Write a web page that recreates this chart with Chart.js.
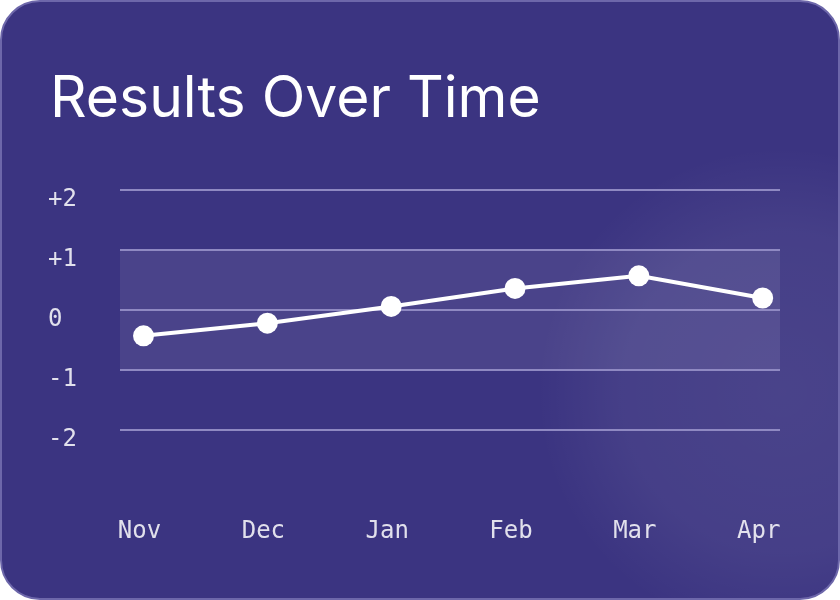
<!DOCTYPE html>
<html>
<head>
<meta charset="utf-8">
<script src="https://cdn.jsdelivr.net/npm/chart.js@4.4.1/dist/chart.umd.min.js"></script>
<style>
  html, body { margin: 0; padding: 0; background: #ffffff; }
  .card {
    position: relative;
    width: 840px;
    height: 600px;
    box-sizing: border-box;
    border: 2px solid #6d67aa;
    border-radius: 40px;
    overflow: hidden;
    background:
      radial-gradient(circle at 780px 390px, rgba(255,255,255,0.075) 0, rgba(255,255,255,0.055) 160px, rgba(255,255,255,0) 245px),
      #3b3481;
  }
  h1 {
    position: absolute;
    left: 48px;
    top: 66px;
    margin: 0;
    font-family: Inter, "Noto Sans", sans-serif;
    font-weight: 400;
    font-size: 57px;
    line-height: 1;
    color: #ffffff;
  }
  canvas { position: absolute; left: -2px; top: -2px; }
</style>
</head>
<body>
<div class="card">
  <h1>Results Over Time</h1>
  <canvas id="lineChart" width="840" height="600"></canvas>
</div>
<script>
var months = ['Nov', 'Dec', 'Jan', 'Feb', 'Mar', 'Apr'];
var results = [-0.43, -0.22, 0.06, 0.36, 0.57, 0.2];
var yTicks = [-2, -1, 0, 1, 2];

var monoFont = { family: '"DejaVu Sans Mono", monospace', size: 24 };

// lighter band between -1 and +1, under the grid lines
var bandPlugin = {
    id: 'band',
    beforeDraw: function (chart) {
        var ctx = chart.ctx;
        var area = chart.chartArea;
        var y = chart.scales.y;
        var top = y.getPixelForValue(1);
        var bottom = y.getPixelForValue(-1);
        ctx.save();
        ctx.fillStyle = 'rgba(255, 255, 255, 0.08)';
        ctx.fillRect(area.left, top, area.right - area.left, bottom - top);
        ctx.restore();
    }
};

var lineCtx = document.getElementById('lineChart').getContext('2d');
var lineChart = new Chart(lineCtx, {
    type: 'line',
    data: {
        datasets: [{
            label: 'Results',
            data: results.map(function (v, i) { return { x: i, y: v }; }),
            borderColor: '#ffffff',
            borderWidth: 4,
            pointRadius: 10.5,
            pointBackgroundColor: '#ffffff',
            pointBorderWidth: 0,
            fill: false,
            tension: 0,
            clip: false
        }]
    },
    options: {
        responsive: false,
        animation: false,
        layout: { padding: { left: 48, right: 60, top: 160, bottom: 40 } },
        plugins: {
            legend: { display: false },
            tooltip: { enabled: false }
        },
        scales: {
            x: {
                type: 'linear',
                min: -0.19,
                max: 5.14,
                afterBuildTicks: function (scale) {
                    scale.ticks = months.map(function (m, i) { return { value: i }; });
                },
                afterFit: function (scale) { scale.height = 70; },
                grid: { display: false, drawTicks: false, tickLength: 0 },
                border: { display: false },
                ticks: {
                    callback: function (v) { return months[v]; },
                    color: 'rgba(255, 255, 255, 0.85)',
                    font: monoFont,
                    padding: 27,
                    labelOffset: -4,
                    maxRotation: 0,
                    autoSkip: false
                }
            },
            y: {
                min: -3,
                max: 2.5,
                afterBuildTicks: function (scale) {
                    scale.ticks = yTicks.map(function (v) { return { value: v }; });
                },
                afterFit: function (scale) { scale.width = 72; },
                grid: { color: '#8f89c2', lineWidth: 2, drawTicks: false },
                border: { display: false },
                ticks: {
                    callback: function (v) { return v > 0 ? '+' + v : String(v); },
                    color: 'rgba(255, 255, 255, 0.85)',
                    font: monoFont,
                    crossAlign: 'far',
                    padding: 0,
                    labelOffset: 10
                }
            }
        }
    },
    plugins: [bandPlugin]
});
</script>
</body>
</html>
